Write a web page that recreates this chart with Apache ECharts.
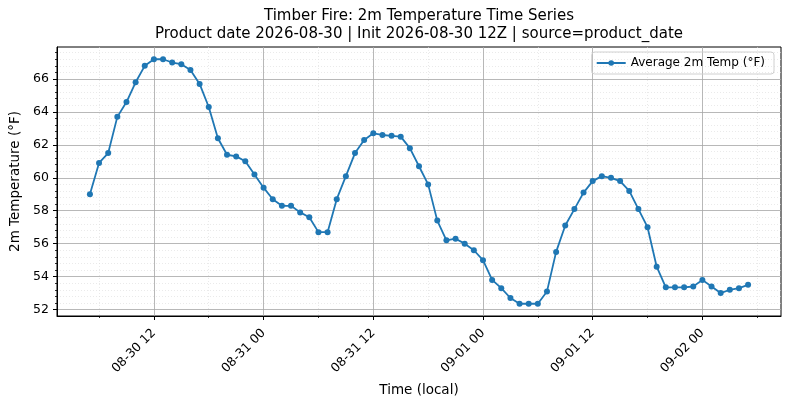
<!DOCTYPE html>
<html>
<head>
<meta charset="utf-8">
<script src="https://cdn.jsdelivr.net/npm/echarts@6/dist/echarts.min.js"></script>
<style>
html,body{margin:0;padding:0;background:#fff;}
#chart{width:790px;height:409px;}
</style>
</head>
<body>
<div id="chart"></div>
<script>
// ---- data ----
const times = [
  "2026-08-30 05:00","2026-08-30 06:00","2026-08-30 07:00","2026-08-30 08:00","2026-08-30 09:00",
  "2026-08-30 10:00","2026-08-30 11:00","2026-08-30 12:00","2026-08-30 13:00","2026-08-30 14:00",
  "2026-08-30 15:00","2026-08-30 16:00","2026-08-30 17:00","2026-08-30 18:00","2026-08-30 19:00",
  "2026-08-30 20:00","2026-08-30 21:00","2026-08-30 22:00","2026-08-30 23:00",
  "2026-08-31 00:00","2026-08-31 01:00","2026-08-31 02:00","2026-08-31 03:00","2026-08-31 04:00",
  "2026-08-31 05:00","2026-08-31 06:00","2026-08-31 07:00","2026-08-31 08:00","2026-08-31 09:00",
  "2026-08-31 10:00","2026-08-31 11:00","2026-08-31 12:00","2026-08-31 13:00","2026-08-31 14:00",
  "2026-08-31 15:00","2026-08-31 16:00","2026-08-31 17:00","2026-08-31 18:00","2026-08-31 19:00",
  "2026-08-31 20:00","2026-08-31 21:00","2026-08-31 22:00","2026-08-31 23:00",
  "2026-09-01 00:00","2026-09-01 01:00","2026-09-01 02:00","2026-09-01 03:00","2026-09-01 04:00",
  "2026-09-01 05:00","2026-09-01 06:00","2026-09-01 07:00","2026-09-01 08:00","2026-09-01 09:00",
  "2026-09-01 10:00","2026-09-01 11:00","2026-09-01 12:00","2026-09-01 13:00","2026-09-01 14:00",
  "2026-09-01 15:00","2026-09-01 16:00","2026-09-01 17:00","2026-09-01 18:00","2026-09-01 19:00",
  "2026-09-01 20:00","2026-09-01 21:00","2026-09-01 22:00","2026-09-01 23:00",
  "2026-09-02 00:00","2026-09-02 01:00","2026-09-02 02:00","2026-09-02 03:00","2026-09-02 04:00",
  "2026-09-02 05:00"
];
const avgTemp = [
  59.0, 60.9, 61.5, 63.7, 64.6, 65.8, 66.8, 67.2, 67.2, 67.0, 66.9, 66.55, 65.7, 64.3, 62.4, 61.4, 61.3, 61.0, 60.2,
  59.4, 58.7, 58.3, 58.3, 57.9, 57.6, 56.7, 56.7, 58.7, 60.1, 61.5, 62.3, 62.7, 62.6, 62.55, 62.5, 61.8, 60.7, 59.6, 57.4, 56.2, 56.3, 56.0, 55.6,
  55.0, 53.8, 53.3, 52.7, 52.35, 52.35, 52.35, 53.1, 55.5, 57.1, 58.1, 59.1, 59.8, 60.1, 60.0, 59.8, 59.2, 58.1, 57.0, 54.6, 53.35, 53.35, 53.35, 53.4,
  53.8, 53.4, 53.0, 53.2, 53.3, 53.5
];
const xTickLabels = ["08-30 12","08-31 00","08-31 12","09-01 00","09-01 12","09-02 00"];
const yTickValues = [52, 54, 56, 58, 60, 62, 64, 66];
const seriesName = "Average 2m Temp (°F)";
const titleLines = [
  "Timber Fire: 2m Temperature Time Series",
  "Product date 2026-08-30 | Init 2026-08-30 12Z | source=product_date"
];

// ---- helpers ----
function toMs(s) {
  const [d, t] = s.split(" ");
  const [Y, M, D] = d.split("-").map(Number);
  const [h, m] = t.split(":").map(Number);
  return Date.UTC(Y, M - 1, D, h, m);
}
const H = 3600 * 1000;
const xs = times.map(toMs);
const xSpan = xs[xs.length - 1] - xs[0];
const xMin = xs[0] - 0.05 * xSpan;
const xMax = xs[xs.length - 1] + 0.05 * xSpan;
const yLo = Math.min(...avgTemp), yHi = Math.max(...avgTemp);
const yMin = yLo - 0.05 * (yHi - yLo);
const yMax = yHi + 0.05 * (yHi - yLo);

const labelByMs = {};
const xMajor = xTickLabels.map(l => {
  const ms = toMs("2026-" + l + ":00");
  labelByMs[ms] = l;
  return ms;
});
const xMinor = [];
for (let v = xMajor[0] - 6 * H; v <= xMax; v += 12 * H) if (v >= xMin) xMinor.push(v);
const yMinor = [];
for (let k = Math.ceil(yMin / 0.4 - 1e-9); k * 0.4 <= yMax; k++) {
  const v = Math.round(k * 4) / 10;
  if (Math.abs(v / 2 - Math.round(v / 2)) > 1e-6) yMinor.push(v);
}

const FONT = "DejaVu Sans";
const data = xs.map((x, i) => [x, avgTemp[i]]);

const chart = echarts.init(document.getElementById("chart"), null, {renderer: "canvas"});
chart.setOption({
  backgroundColor: "#fff",
  animation: false,
  textStyle: {fontFamily: FONT},
  title: {
    text: titleLines.join("\n"),
    left: 419, top: 7, textAlign: "center", padding: 0,
    textStyle: {fontFamily: FONT, fontSize: 15, fontWeight: "normal", color: "#000", lineHeight: 18}
  },
  legend: {
    right: 16, top: 52,
    itemWidth: 29, itemHeight: 7, itemGap: 6, padding: [5, 9, 5, 4],
    borderColor: "#d0d0d0", borderWidth: 1, borderRadius: 3,
    textStyle: {fontFamily: FONT, fontSize: 12, color: "#000"},
    data: [seriesName]
  },
  grid: {
    left: 57, right: 9, top: 47, bottom: 93,
    show: true, borderColor: "#000", borderWidth: 1, backgroundColor: "transparent"
  },
  xAxis: [
    {
      type: "value", min: xMin, max: xMax, position: "bottom",
      name: "Time (local)", nameLocation: "middle", nameGap: 67,
      nameTextStyle: {fontFamily: FONT, fontSize: 13.5, color: "#000"},
      axisLine: {show: true, lineStyle: {color: "#000", width: 1}},
      axisTick: {show: true, customValues: xMajor, length: 4, lineStyle: {color: "#000", width: 1}},
      axisLabel: {
        customValues: xMajor, rotate: 45, margin: 15, padding: [7, 0, 0, 0],
        fontFamily: FONT, fontSize: 12.5, color: "#000",
        formatter: v => labelByMs[v] || ""
      },
      splitLine: {show: true, lineStyle: {color: "#a6a6a6", width: 0.8}}
    },
    {
      type: "value", min: xMin, max: xMax, position: "bottom",
      axisLine: {show: false},
      axisTick: {show: true, customValues: xMinor, length: 2, lineStyle: {color: "#000", width: 0.8}},
      axisLabel: {show: false},
      splitLine: {show: true, lineStyle: {color: "#dcdcdc", width: 0.6, type: [1, 2]}}
    }
  ],
  yAxis: [
    {
      type: "value", min: yMin, max: yMax, position: "left",
      name: "2m Temperature (°F)", nameLocation: "middle", nameGap: 33, nameRotate: 90,
      nameTextStyle: {fontFamily: FONT, fontSize: 13.5, color: "#000"},
      axisLine: {show: true, lineStyle: {color: "#000", width: 1}},
      axisTick: {show: true, customValues: yTickValues, length: 4, lineStyle: {color: "#000", width: 1}},
      axisLabel: {customValues: yTickValues, margin: 8, fontFamily: FONT, fontSize: 12.5, color: "#000"},
      splitLine: {show: true, lineStyle: {color: "#a6a6a6", width: 0.8}}
    },
    {
      type: "value", min: yMin, max: yMax, position: "left",
      axisLine: {show: false},
      axisTick: {show: true, customValues: yMinor, length: 2, lineStyle: {color: "#000", width: 0.8}},
      axisLabel: {show: false},
      splitLine: {show: true, lineStyle: {color: "#dcdcdc", width: 0.6, type: [1, 2]}}
    }
  ],
  series: [
    {
      name: seriesName, type: "line", xAxisIndex: 0, yAxisIndex: 0,
      data: data,
      symbol: "circle", symbolSize: 6,
      lineStyle: {color: "#1f77b4", width: 1.8},
      itemStyle: {color: "#1f77b4"},
      z: 5
    }
  ]
});
</script>
</body>
</html>
